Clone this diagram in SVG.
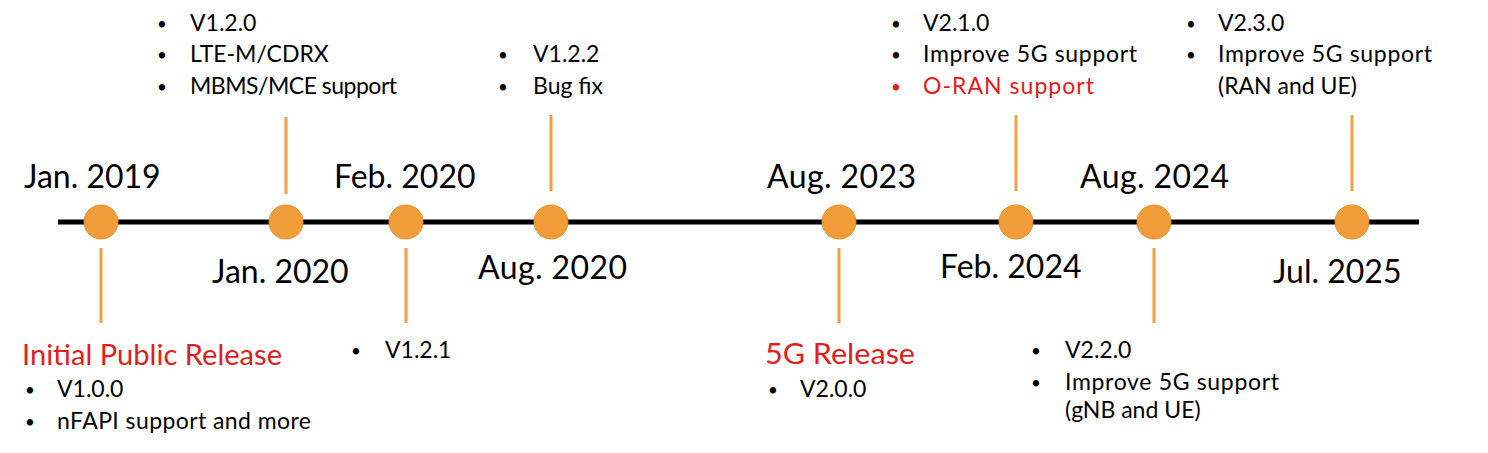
<svg xmlns="http://www.w3.org/2000/svg" width="1488" height="453" viewBox="0 0 1488 453">
<style>
.date{font-family:Lato,"Open Sans",sans-serif;font-size:32px;fill:#000}
.txt{font-family:Lato,"Open Sans",sans-serif;font-size:23px;fill:#000}
.b{font-family:Lato,"Open Sans",sans-serif;font-size:17px;fill:#000}
.red{fill:#E0201B}
.title{font-family:Lato,"Open Sans",sans-serif;font-size:29px;fill:#E0201B}
.tick{stroke:#F0A040;stroke-width:3}
.dot{fill:#F09C38;stroke:#E38E2C;stroke-width:1}
</style>
<rect width="1488" height="453" fill="#fff"/>
<g id="connectors">
<line x1="58" y1="222" x2="1419" y2="222" stroke="#000" stroke-width="5"/>
<line class="tick" x1="101" y1="248" x2="101" y2="323"/>
<line class="tick" x1="286" y1="117" x2="286" y2="194"/>
<line class="tick" x1="406" y1="248" x2="406" y2="323"/>
<line class="tick" x1="551" y1="115" x2="551" y2="191"/>
<line class="tick" x1="839" y1="248" x2="839" y2="323"/>
<line class="tick" x1="1016" y1="115" x2="1016" y2="191"/>
<line class="tick" x1="1154" y1="248" x2="1154" y2="323"/>
<line class="tick" x1="1352" y1="115" x2="1352" y2="191"/>
</g>
<g id="n2019">
<circle class="dot" cx="101" cy="222" r="17"/>
<text class="date" x="24" y="188">Jan. 2019</text>
<text class="title" x="22" y="365" textLength="260" lengthAdjust="spacingAndGlyphs">Initial Public Release</text>
<text class="b" x="25" y="396">•</text><text class="txt" x="57" y="397">V1.0.0</text>
<text class="b" x="25" y="428">•</text><text class="txt" x="57" y="429" textLength="254">nFAPI support and more</text>
</g>
<g id="n2020jan">
<circle class="dot" cx="286" cy="222" r="17"/>
<text class="date" x="212" y="283">Jan. 2020</text>
<text class="b" x="157" y="30">•</text><text class="txt" x="190" y="31">V1.2.0</text>
<text class="b" x="157" y="61">•</text><text class="txt" x="190" y="62">LTE-M/CDRX</text>
<text class="b" x="157" y="93">•</text><text class="txt" x="190" y="94" textLength="207">MBMS/MCE support</text>
</g>
<g id="n2020feb">
<circle class="dot" cx="406" cy="222" r="17"/>
<text class="date" x="334" y="188">Feb. 2020</text>
<text class="b" x="351" y="357">•</text><text class="txt" x="385" y="358">V1.2.1</text>
</g>
<g id="n2020aug">
<circle class="dot" cx="551" cy="222" r="17"/>
<text class="date" x="478" y="279" textLength="149">Aug. 2020</text>
<text class="b" x="498" y="61">•</text><text class="txt" x="533" y="62">V1.2.2</text>
<text class="b" x="498" y="93">•</text><text class="txt" x="533" y="94">Bug fix</text>
</g>
<g id="n2023aug">
<circle class="dot" cx="839" cy="222" r="17"/>
<text class="date" x="767" y="188" textLength="149">Aug. 2023</text>
<text class="title" x="765" y="364" textLength="150" lengthAdjust="spacingAndGlyphs">5G Release</text>
<text class="b" x="768" y="396">•</text><text class="txt" x="800" y="397">V2.0.0</text>
</g>
<g id="n2024feb">
<circle class="dot" cx="1016" cy="222" r="17"/>
<text class="date" x="940" y="278">Feb. 2024</text>
<text class="b" x="891" y="30">•</text><text class="txt" x="923" y="31">V2.1.0</text>
<text class="b" x="891" y="61">•</text><text class="txt" x="923" y="62" textLength="214">Improve 5G support</text>
<text class="b red" x="891" y="93">•</text><text class="txt red" x="923" y="94" textLength="171">O-RAN support</text>
</g>
<g id="n2024aug">
<circle class="dot" cx="1154" cy="222" r="17"/>
<text class="date" x="1080" y="188" textLength="149">Aug. 2024</text>
<text class="b" x="1031" y="357">•</text><text class="txt" x="1065" y="358">V2.2.0</text>
<text class="b" x="1031" y="389">•</text><text class="txt" x="1065" y="390" textLength="214">Improve 5G support</text>
<text class="txt" x="1065" y="418">(gNB and UE)</text>
</g>
<g id="n2025jul">
<circle class="dot" cx="1352" cy="222" r="17"/>
<text class="date" x="1273" y="283">Jul. 2025</text>
<text class="b" x="1186" y="30">•</text><text class="txt" x="1218" y="31">V2.3.0</text>
<text class="b" x="1186" y="61">•</text><text class="txt" x="1218" y="62" textLength="214">Improve 5G support</text>
<text class="txt" x="1218" y="94">(RAN and UE)</text>
</g>
</svg>
